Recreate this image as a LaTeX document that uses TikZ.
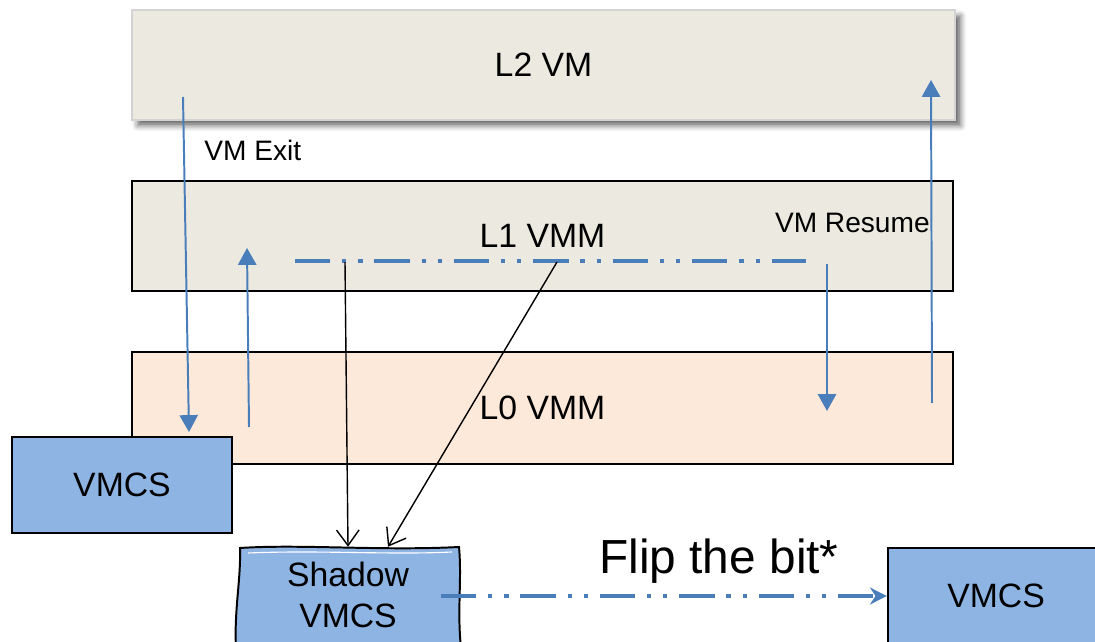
\documentclass[tikz,border=0pt]{standalone}
\usepackage{fontspec}
\setmainfont{Liberation Sans}
\usetikzlibrary{arrows.meta,shadows.blur,calc}
\definecolor{paneBeige}{HTML}{ECEAE0}
\definecolor{paneRose}{HTML}{FDE9D9}
\definecolor{vmcsBlue}{HTML}{8EB4E3}
\definecolor{flowBlue}{HTML}{4A7EBB}
\definecolor{frameGray}{HTML}{D3D3D3}
\newcommand{\pxlen}{0.025cm}
\tikzset{
  layer/.style={rectangle, inner sep=0pt, line width=1.6pt,
    minimum width=821*\pxlen, minimum height=110*\pxlen,
    font=\fontsize{24}{29}\selectfont},
  vmcsbox/.style={rectangle, draw=black, fill=vmcsBlue, line width=1.6pt,
    inner sep=0pt, font=\fontsize{24}{29}\selectfont},
  flow/.style={draw=flowBlue, line width=1.4pt, -{Triangle[length=12pt,width=13pt]}},
  dashdotdot/.style={draw=flowBlue, line width=3.2pt,
    dash pattern=on 25pt off 8.5pt on 3pt off 8.5pt on 3pt off 8.5pt},
  copyarrow/.style={draw=black, line width=1pt, -{Straight Barb[length=11pt,width=16pt]}},
  note/.style={font=\fontsize{20}{24}\selectfont, inner sep=0pt},
}
\begin{document}
\begin{tikzpicture}[x=\pxlen, y=-\pxlen]
\useasboundingbox (0,0) rectangle (1095,642);
\clip (0,0) rectangle (1095,642);

% the three layers
\node[layer, draw=frameGray, fill=paneBeige, minimum width=823*\pxlen,
  blur shadow={shadow xshift=4pt, shadow yshift=-4pt, shadow blur radius=4pt, shadow opacity=60}]
  (l2) at (543.5,65) {L2 VM};
\node[layer, draw=black, fill=paneBeige] (l1) at (542.5,236) {L1 VMM};
\node[layer, draw=black, fill=paneRose, minimum height=112*\pxlen] (l0) at (542.5,408) {L0 VMM};

% VMCS used by L0
\node[vmcsbox, minimum width=220*\pxlen, minimum height=96*\pxlen] (vmcsL) at (122,485) {VMCS};

% labels
\node[note, anchor=west] (exitlbl) at (204,150) {VM Exit};
\node[note, anchor=east] (resumelbl) at (930,223) {VM Resume};
\node[font=\fontsize{34}{40}\selectfont, inner sep=0pt, anchor=base] (fliplbl) at (719,573) {Flip the bit*};

% exit / resume flow
\coordinate (exitTop) at (183,97);
\coordinate (exitEnd) at (189,432);
\draw[flow] (exitTop) -- (exitEnd);
\coordinate (upLbot) at (249,427);
\coordinate (upLtop) at (247,248);
\draw[flow] (upLbot) -- (upLtop);
\coordinate (downRtop) at (827,264);
\coordinate (downRbot) at (827,411);
\draw[flow] (downRtop) -- (downRbot);
\coordinate (resumeBot) at (932,403);
\coordinate (resumeTop) at (931,80);
\draw[flow] (resumeBot) -- (resumeTop);

% L1 working on the shadow structure
\coordinate (dl) at (295,261);
\coordinate (dr) at (806,261);
\draw[dashdotdot] (dl) -- (dr);

% shadow VMCS, hand-drawn outline
\fill[vmcsBlue] (236,648) .. controls (234,610) and (241,580) .. (240,548)
  .. controls (300,544) and (380,551) .. (459,547)
  .. controls (462,580) and (457,610) .. (461,648) -- cycle;
\draw[white, line width=0.8pt] (248,553) .. controls (320,550) and (390,555) .. (452,552);
\draw[black, line width=1.4pt, line cap=round] (236,648) .. controls (234,610) and (241,580) .. (240,548)
  .. controls (300,544) and (380,551) .. (459,547)
  .. controls (462,580) and (457,610) .. (461,648);
\node[inner sep=0pt, minimum width=222*\pxlen, minimum height=96*\pxlen, align=center,
  font=\fontsize{24}{29.5}\selectfont] (shadow) at (348,595) {Shadow\\VMCS};

\coordinate (srcA) at (345,262);
\coordinate (srcB) at (557,262);
\draw[copyarrow] (srcA) -- (shadow.north);
\draw[copyarrow] (srcB) -- ($(shadow.north)+(40,0)$);

% target VMCS
\node[vmcsbox, minimum width=216*\pxlen, minimum height=96*\pxlen] (vmcsR) at (996,596) {VMCS};

\coordinate (flipStart) at (441,596);
\draw[dashdotdot, -{Stealth[length=12pt,width=12pt]}] (flipStart) -- (vmcsR.west);
\end{tikzpicture}
\end{document}
